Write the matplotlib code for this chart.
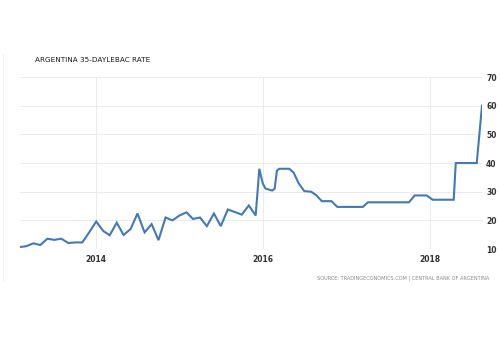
import pandas as pd
import matplotlib
matplotlib.use("Agg")
import matplotlib.pyplot as plt
import matplotlib.dates as mdates
from matplotlib.lines import Line2D

# monthly readings, Feb 2013 - Dec 2015
monthly_start = "2013-02-01"
monthly_rate = [
    10.7, 11.0, 12.0, 11.4, 13.6, 13.2, 13.6, 12.1, 12.3, 12.3, 15.8,
    19.6, 16.3, 14.8, 19.2, 14.9, 17.0, 22.4, 15.8, 18.7, 13.1, 21.0, 20.0,
    21.7, 22.8, 20.5, 21.0, 18.0, 22.4, 18.0, 23.8, 22.9, 22.0, 25.2, 21.7,
]

# rate changes after the Dec 2015 devaluation
change_dates = [
    "2015-12-17", "2016-01-01", "2016-01-13", "2016-02-11", "2016-02-22",
    "2016-03-03", "2016-03-13", "2016-04-26", "2016-05-15", "2016-06-06",
    "2016-07-01", "2016-07-31", "2016-08-22", "2016-09-16", "2016-10-28",
    "2016-11-23", "2017-03-15", "2017-04-06", "2017-10-03", "2017-10-28",
    "2017-12-19", "2018-01-15", "2018-04-17", "2018-04-21", "2018-04-26",
    "2018-07-27", "2018-08-19",
]
change_rate = [
    38.0, 32.9, 31.1, 30.4, 31.0,
    37.3, 38.0, 38.0, 36.7, 33.0,
    30.2, 30.0, 28.8, 26.7, 26.7,
    24.7, 24.7, 26.3, 26.3, 28.7,
    28.7, 27.2, 27.2, 32.9, 40.0,
    40.0, 60.0,
]

y_ticks = [10, 20, 30, 40, 50, 60, 70]
x_ticks = ["2014-01-01", "2016-01-01", "2018-01-01"]

dates = list(pd.date_range(monthly_start, periods=len(monthly_rate), freq="MS"))
dates += list(pd.to_datetime(change_dates))
rates = monthly_rate + change_rate

fig = plt.figure(figsize=(5, 3.37), dpi=100)
ax = fig.add_axes([0.04, 0.261, 0.924, 0.5104])

ax.plot(dates, rates, color="#4479b4", linewidth=1.5, solid_joinstyle="miter")

ax.set_ylim(10, 70)
ax.set_xlim(pd.Timestamp("2013-02-01"), pd.Timestamp("2018-08-19"))
ax.set_yticks(y_ticks)
ax.set_xticks(pd.to_datetime(x_ticks))
ax.xaxis.set_major_formatter(mdates.DateFormatter("%Y"))
ax.yaxis.tick_right()
ax.grid(True, color="#e8e8e8", linewidth=0.6)
ax.set_axisbelow(True)
for s in ax.spines.values():
    s.set_visible(False)
ax.tick_params(length=0, labelsize=5.5, labelcolor="#333333")
ax.tick_params(axis="y", pad=3)
ax.tick_params(axis="x", pad=4)
for lbl in ax.get_xticklabels() + ax.get_yticklabels():
    lbl.set_fontweight("bold")

fig.text(0.07, 0.822, "ARGENTINA 35-DAYLEBAC RATE", fontsize=5.2,
         color="#1a1a1a", va="center", ha="left", fontweight="medium")
fig.text(0.978, 0.175, "SOURCE: TRADINGECONOMICS.COM | CENTRAL BANK OF ARGENTINA",
         fontsize=3.6, color="#888888", va="center", ha="right")

# faint frame line on the left side of the panel
fig.add_artist(Line2D([0.006, 0.006], [0.17, 0.84], transform=fig.transFigure,
                      color="#f0f0f0", linewidth=0.8))

fig.savefig("out.png", dpi=100)
